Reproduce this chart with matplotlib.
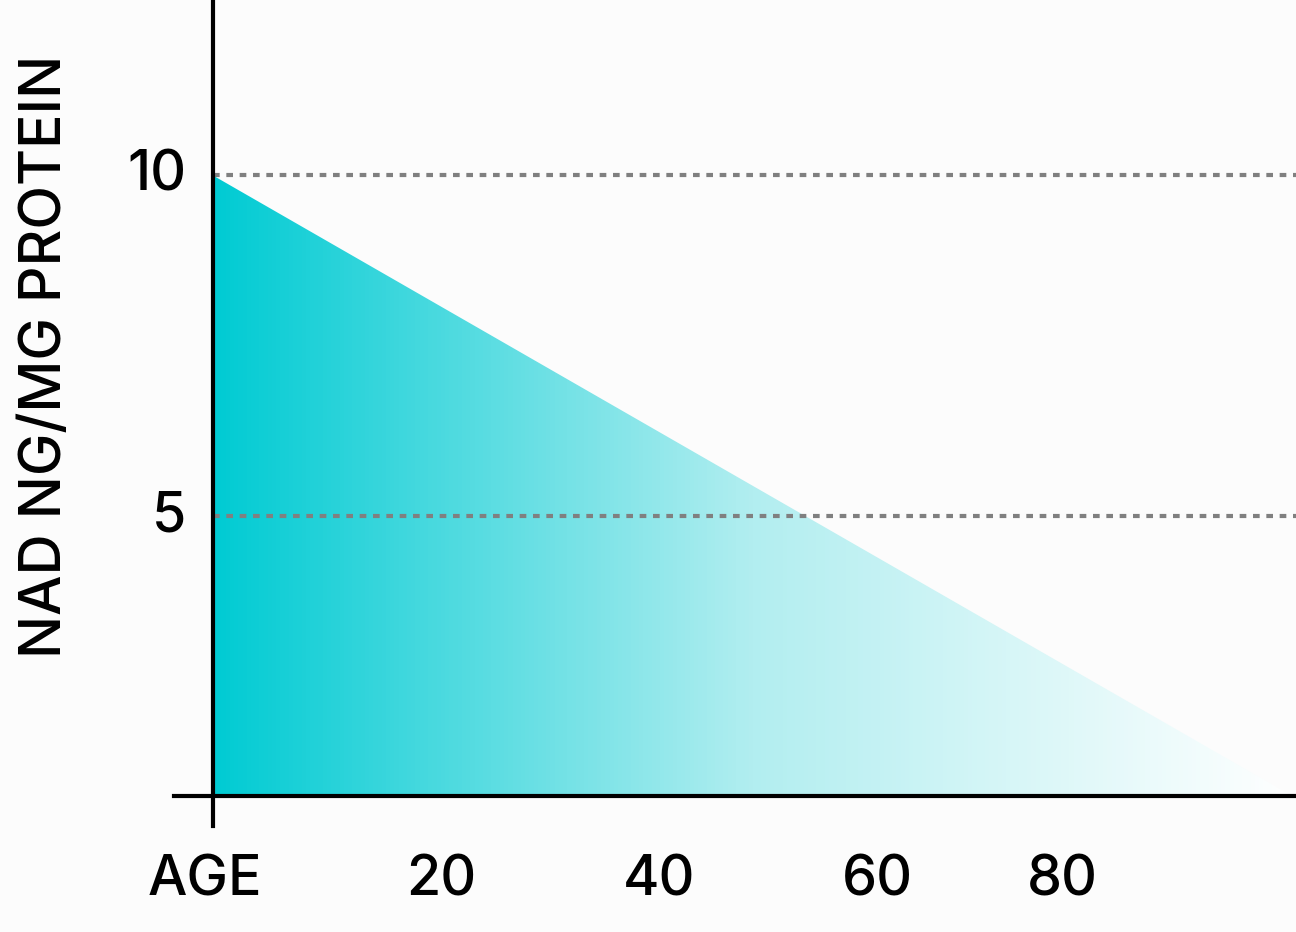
import numpy as np
import matplotlib
matplotlib.use("Agg")
import matplotlib.pyplot as plt
from matplotlib.patches import Polygon
from matplotlib.colors import LinearSegmentedColormap

ages = [0, 99]
nad = [10, 0.9]
x_ticks = [-0.7, 21, 41, 61, 78]
x_labels = ["AGE", "20", "40", "60", "80"]
y_ticks = [5, 10]
y_labels = ["5", "10"]

fig = plt.figure(figsize=(12.96, 9.32), dpi=100, facecolor="#fcfcfc")
ax = fig.add_axes([0, 0, 1, 1])
ax.set_facecolor("#fcfcfc")
ax.set_xlim(-19.5, 99.4)
ax.set_ylim(-1.1, 12.57)
ax.axis("off")

grad = np.linspace(0, 1, 256)[None, :]
cmap = LinearSegmentedColormap.from_list("g", ["#00cbd3", "#b2eef0", "#ffffff"])
im = ax.imshow(grad, cmap=cmap, extent=[ages[0], ages[1], nad[1], nad[0]], aspect="auto", zorder=1)
poly = Polygon([(ages[0], nad[0]), (ages[1], nad[1]), (ages[0], nad[1])], closed=True,
               transform=ax.transData, facecolor="none", edgecolor="none")
ax.add_patch(poly)
im.set_clip_path(poly)

for yv in y_ticks:
    ax.plot([ages[0], 99.4], [yv, yv], ls=(0, (1.6, 1.6)), color="#808080", lw=3, zorder=2)

ax.plot([-3.5, 99.4], [nad[1], nad[1]], color="black", lw=3, zorder=3)
ax.plot([0, 0], [0.46, 12.57], color="black", lw=3, zorder=3)

font = "Inter"
for xv, lab in zip(x_ticks, x_labels):
    ax.text(xv, -0.35, lab, ha="center", va="center", fontsize=40, family=font, fontweight="medium")
for yv, lab in zip(y_ticks, y_labels):
    ax.text(-2.4, yv, lab, ha="right", va="center", fontsize=40, family=font, fontweight="medium")
ax.text(-15.3, 7.35, "NAD NG/MG PROTEIN", rotation=90, ha="center", va="center",
        fontsize=41, family=font, fontweight="medium")

fig.savefig("out.png", dpi=100, facecolor=fig.get_facecolor())
